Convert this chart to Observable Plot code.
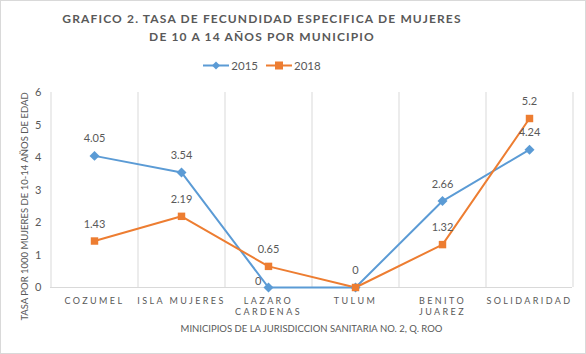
<!DOCTYPE html>
<html><head><meta charset="utf-8">
<script src="https://cdn.jsdelivr.net/npm/d3@7"></script>
<script src="https://cdn.jsdelivr.net/npm/@observablehq/plot@0.6"></script>
<style>
body{margin:0;background:#fff;}
#wrap{position:relative;width:586px;height:354px;overflow:hidden;font-family:Lato,sans-serif;background:#fff;}
#border{position:absolute;left:0;top:0;width:586px;height:354px;box-sizing:border-box;border:1px solid #d9d9d9;pointer-events:none;}
#title{position:absolute;left:0;width:524px;top:10px;text-align:center;font-weight:bold;font-size:12px;letter-spacing:1.15px;color:#595959;line-height:18px;}
#legend{position:absolute;top:59px;left:0;width:524px;text-align:center;font-size:11.5px;color:#595959;}
#legend span.item{display:inline-flex;align-items:center;margin:0 4px;}
#legend svg{margin-right:2px;}
#chart{position:absolute;top:80px;left:0;}
#chart g[aria-label="x-axis tick label"] text{letter-spacing:2.4px;}
</style></head>
<body>
<div id="wrap">
  <div id="title"></div>
  <div id="legend"></div>
  <div id="chart"></div>
  <div id="border"></div>
</div>
<script>
const titleLines = ["GRAFICO 2. TASA DE FECUNDIDAD ESPECIFICA DE MUJERES", "DE 10 A 14 AÑOS POR MUNICIPIO"];
const municipios = ["COZUMEL","ISLA MUJERES","LAZARO CARDENAS","TULUM","BENITO JUAREZ","SOLIDARIDAD"];
const tickLabels = ["COZUMEL","ISLA MUJERES","LAZARO\nCARDENAS","TULUM","BENITO\nJUAREZ","SOLIDARIDAD"];
const series = ["2015","2018"];
const tasa2015 = [4.05,3.54,0,0,2.66,4.24];
const tasa2018 = [1.43,2.19,0.65,0,1.32,5.2];
const yTicks = [0,1,2,3,4,5,6];
const xTitle = "MINICIPIOS DE LA JURISDICCION SANITARIA NO. 2, Q. ROO";
const yTitle = "TASA POR 1000 MUJERES DE 10-14 AÑOS DE EDAD";
const colors = ["#5B9BD5","#ED7D31"];

document.getElementById("title").innerHTML = titleLines.join("<br>");
const legend = document.getElementById("legend");
series.forEach((s, k) => {
  const marker = k === 0
    ? `<path d="M13,0.5 L17,4.5 L13,8.5 L9,4.5 Z" fill="${colors[k]}"/>`
    : `<rect x="9" y="0.5" width="8" height="8" fill="${colors[k]}"/>`;
  legend.insertAdjacentHTML("beforeend",
    `<span class="item"><svg width="26" height="9"><line x1="0" x2="26" y1="4.5" y2="4.5" stroke="${colors[k]}" stroke-width="2"/>${marker}</svg>${s}</span>`);
});

const data = [];
municipios.forEach((m, i) => {
  data.push({m, serie: series[0], v: tasa2015[i]});
  data.push({m, serie: series[1], v: tasa2018[i]});
});
const d15 = data.filter(d => d.serie === "2015");
const d18 = data.filter(d => d.serie === "2018");
const half = 43.5;

const chart = Plot.plot({
  width: 586,
  height: 274,
  marginLeft: 50,
  marginRight: 14,
  marginTop: 12,
  marginBottom: 67,
  style: {fontFamily: "Lato, sans-serif", fontSize: "11px", color: "#595959", background: "transparent", overflow: "visible"},
  x: {type: "point", domain: municipios, padding: 0.5},
  y: {domain: [0, 6]},
  color: {domain: series, range: colors},
  marks: [
    Plot.ruleX(municipios, {x: d => d, dx: -half, y1: 0, y2: 6, stroke: "#d9d9d9"}),
    Plot.ruleX([municipios[municipios.length - 1]], {x: d => d, dx: half, y1: 0, y2: 6, stroke: "#d9d9d9"}),
    Plot.ruleY([0], {stroke: "#d9d9d9"}),
    Plot.axisY({ticks: yTicks, tickFormat: d => String(d), tickSize: 0, tickPadding: 9, fontSize: 11, label: null, fill: "#595959"}),
    Plot.axisX({tickSize: 0, tickPadding: 9, fontSize: 9, lineHeight: 1.2, label: null, fill: "#595959",
      tickFormat: d => tickLabels[municipios.indexOf(d)]}),
    Plot.line(data, {x: "m", y: "v", z: "serie", stroke: "serie", strokeWidth: 2}),
    Plot.dot(d15, {x: "m", y: "v", symbol: "diamond2", r: 4.5, fill: colors[0]}),
    Plot.dot(d18, {x: "m", y: "v", symbol: "square", r: 4.2, fill: colors[1]}),
    Plot.text(d15.filter(d => d.v !== 0), {x: "m", y: "v", text: d => String(d.v), dy: -17, fill: "#595959", fontSize: 11}),
    Plot.text(d15.filter(d => d.m === "LAZARO CARDENAS"), {x: "m", y: "v", text: d => String(d.v), dx: -7, dy: -6, textAnchor: "end", fill: "#595959", fontSize: 11}),
    Plot.text(d18, {x: "m", y: "v", text: d => String(d.v), dy: -17, fill: "#595959", fontSize: 11}),
    Plot.text([xTitle], {frameAnchor: "bottom", text: d => d, dy: 44, fill: "#595959", fontSize: 9.5, letterSpacing: "-0.3px"}),
    Plot.text([yTitle], {frameAnchor: "left", text: d => d, rotate: -90, dx: -26, dy: 16.5, textAnchor: "middle", fill: "#595959", fontSize: 9.5})
  ]
});
document.getElementById("chart").appendChild(chart);
</script>
</body></html>
